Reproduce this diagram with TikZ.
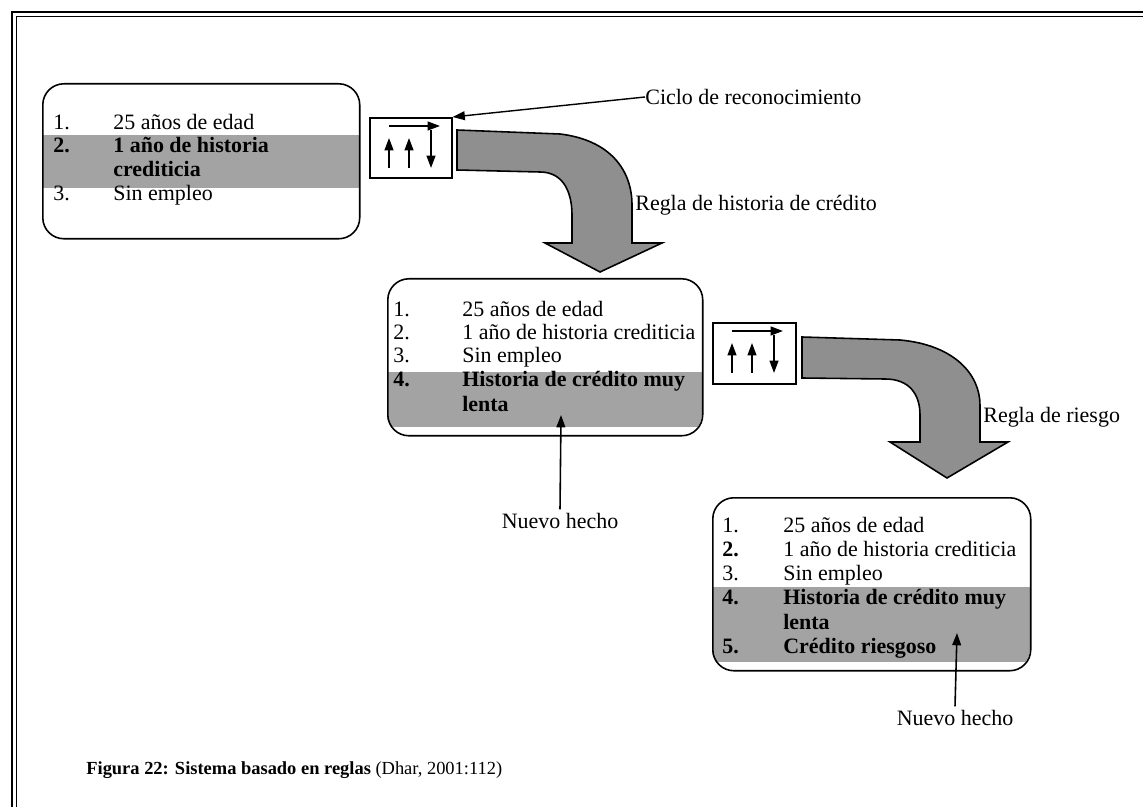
\documentclass[tikz,border=0pt]{standalone}
\usepackage{fontspec}
\setmainfont{Liberation Serif}
\usetikzlibrary{arrows.meta}
\definecolor{banda}{gray}{0.64}
\definecolor{flecha}{gray}{0.56}

\begin{document}
\begin{tikzpicture}[x=0.02cm,y=-0.02cm,
    >={Triangle[length=7pt,width=5pt]},
    caja/.style={draw,line width=0.9pt,rounded corners=12pt,anchor=north west,inner sep=0pt},
    ciclo/.style={draw,line width=0.9pt,anchor=north west,minimum width=1.64cm,minimum height=1.2cm,inner sep=0pt},
    item/.style={anchor=base west,inner sep=0pt,font=\fontsize{12.5}{14}\selectfont},
    rotulo/.style={inner sep=0pt,font=\fontsize{12.5}{14}\selectfont},
    giro/.style={draw,line width=0.9pt,fill=flecha},
]
    \useasboundingbox (0,0) rectangle (1143,807);

    % marco
    \draw[line width=1.5pt] (12,807) -- (12,12) -- (1143,12);
    \draw[line width=0.5pt] (16,807) -- (16,16) -- (1143,16);

    % bandas grises de los hechos nuevos
    \begin{scope}
        \clip[rounded corners=12pt] (42,83) rectangle (359,238);
        \fill[banda] (42,135) rectangle (359,188);
    \end{scope}
    \begin{scope}
        \clip[rounded corners=12pt] (387,278) rectangle (702,435);
        \fill[banda] (387,372) rectangle (702,427);
    \end{scope}
    \begin{scope}
        \clip[rounded corners=12pt] (712,497) rectangle (1030,670);
        \fill[banda] (712,587) rectangle (1030,662);
    \end{scope}

    \node[caja,minimum width=6.34cm,minimum height=3.1cm] (hechos1) at (42,83) {};
    \node[caja,minimum width=6.3cm,minimum height=3.14cm] (hechos2) at (387,278) {};
    \node[caja,minimum width=6.36cm,minimum height=3.46cm] (hechos3) at (712,497) {};

    \foreach \y/\n/\t in {130/1./25 años de edad,
                          153/\textbf{2.}/\textbf{1 año de historia},
                          177//\textbf{crediticia},
                          201/3./Sin empleo}{
        \node[item] at (53,\y) {\n};
        \node[item] at (113,\y) {\t};
    }
    \foreach \y/\n/\t in {317/1./25 años de edad,
                          340/2./1 año de historia crediticia,
                          363/3./Sin empleo,
                          387/\textbf{4.}/\textbf{Historia de crédito muy},
                          412//\textbf{lenta}}{
        \node[item] at (393,\y) {\n};
        \node[item] at (462,\y) {\t};
    }
    \foreach \y/\n/\t in {532/1./25 años de edad,
                          556/\textbf{2.}/1 año de historia crediticia,
                          580/3./Sin empleo,
                          604/\textbf{4.}/\textbf{Historia de crédito muy},
                          629//\textbf{lenta},
                          653/\textbf{5.}/\textbf{Crédito riesgoso}}{
        \node[item] at (722,\y) {\n};
        \node[item] at (783,\y) {\t};
    }

    % ciclos
    \node[ciclo] (ciclo1) at (369,117) {};
    \node[ciclo,minimum width=1.66cm,minimum height=1.22cm] (ciclo2) at (712,322) {};
    \foreach \c in {ciclo1,ciclo2}{
        \draw[->,line width=0.9pt] ([shift={(20,9)}]\c.north west) -- ([shift={(71,9)}]\c.north west);
        \draw[->,line width=0.9pt] ([shift={(20,51)}]\c.north west) -- ([shift={(20,21)}]\c.north west);
        \draw[->,line width=0.9pt] ([shift={(40,51)}]\c.north west) -- ([shift={(40,21)}]\c.north west);
        \draw[->,line width=0.9pt] ([shift={(62,13)}]\c.north west) -- ([shift={(62,51)}]\c.north west);
    }

    % flechas curvas
    \filldraw[giro] (457,130) -- (560,134)
        .. controls (610,140) and (632,170) .. (632,205)
        -- (632,243) -- (662,243) -- (600,272) -- (545,243) -- (572,243) -- (572,215)
        .. controls (572,195) and (565,172) .. (540,172)
        -- (457,170) -- cycle;
    \filldraw[giro] (802,337) -- (900,340)
        .. controls (955,345) and (980,375) .. (980,405)
        -- (980,442) -- (1008,442) -- (947,478) -- (890,442) -- (920,442) -- (920,415)
        .. controls (920,395) and (910,379) .. (885,379)
        -- (802,378) -- cycle;

    \node[rotulo,anchor=west] (etiqueta) at (645,97) {Ciclo de reconocimiento};
    \draw[->,line width=0.8pt] (etiqueta.west) -- (ciclo1.north east);
    \node[rotulo,anchor=west] (regla1) at (635,205) {Regla de historia de crédito};
    \node[rotulo,anchor=west] (regla2) at (983,417) {Regla de riesgo};

    \node[rotulo,inner sep=2pt] (nuevo1) at (560,521) {Nuevo hecho};
    \coordinate (hecho1) at (561,415);
    \draw[->,line width=0.9pt] (nuevo1.north) -- (hecho1);
    \node[rotulo,inner sep=2pt] (nuevo2) at (955,718) {Nuevo hecho};
    \coordinate (hecho2) at (957,633);
    \draw[->,line width=0.9pt] (nuevo2.north) -- (hecho2);

    \node[anchor=west,inner sep=0pt,font=\fontsize{10.5}{12}\selectfont] (pie) at (86,770)
        {\textbf{Figura 22: Sistema basado en reglas} (Dhar, 2001:112)};
\end{tikzpicture}
\end{document}
